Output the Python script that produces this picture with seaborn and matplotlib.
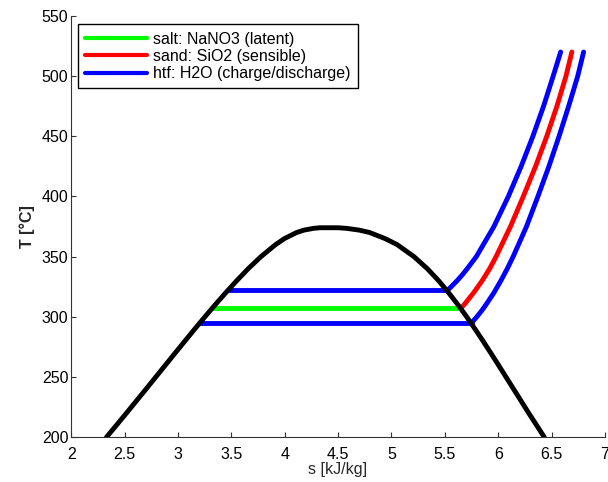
import matplotlib
matplotlib.use("Agg")
import matplotlib.pyplot as plt
import numpy as np
import pandas as pd
import seaborn as sns

# saturation dome of water
sat_T = [200, 210, 220, 230, 240, 250, 260, 270, 280, 290, 300, 310, 320, 330,
         340, 350, 360, 365, 370, 372, 373.5, 374]
sat_sf = [2.331, 2.425, 2.518, 2.610, 2.702, 2.793, 2.884, 2.975, 3.067, 3.159,
          3.253, 3.349, 3.448, 3.551, 3.659, 3.778, 3.915, 3.998, 4.111, 4.18,
          4.27, 4.33]
sat_sg = [6.432, 6.359, 6.286, 6.215, 6.144, 6.073, 6.002, 5.930, 5.857, 5.782,
          5.705, 5.623, 5.536, 5.442, 5.336, 5.211, 5.053, 4.94, 4.797, 4.70,
          4.58, 4.50]

# isothermal evaporation lines (T, s_start, s_end)
salt_T, salt_s = 307, [3.32, 5.65]
htf_lo_T, htf_lo_s = 295, [3.205, 5.75]
htf_hi_T, htf_hi_s = 322, [3.468, 5.525]

# superheated branches
sand_T = [307, 310, 315, 320, 330, 340, 350, 375, 400, 425, 450, 475, 500, 520]
sand_s = [5.65, 5.68, 5.725, 5.77, 5.85, 5.92, 5.98, 6.115, 6.235, 6.35, 6.455,
          6.55, 6.635, 6.69]
htf_lo_sup_T = [295, 300, 305, 310, 320, 330, 340, 350, 375, 400, 425, 450, 475,
                500, 520]
htf_lo_sup_s = [5.75, 5.80, 5.845, 5.885, 5.96, 6.025, 6.085, 6.14, 6.265, 6.372,
                6.475, 6.57, 6.66, 6.745, 6.80]
htf_hi_sup_T = [322, 325, 330, 335, 340, 350, 375, 400, 425, 450, 475, 500, 520]
htf_hi_sup_s = [5.525, 5.56, 5.615, 5.665, 5.71, 5.795, 5.96, 6.095, 6.215,
                6.325, 6.425, 6.515, 6.585]

GREEN, RED, BLUE = "#00ff00", "#ff0000", "#0000ff"

sns.set_style("ticks")
plt.rcParams["font.family"] = ["Liberation Sans", "DejaVu Sans"]
plt.rcParams["xtick.direction"] = "in"
plt.rcParams["ytick.direction"] = "in"
plt.rcParams["text.color"] = "black"

fig = plt.figure(figsize=(6.08, 4.82), dpi=100)
ax = fig.add_axes([0.117, 0.093, 0.878, 0.874])

lw = 3.5
FS = 11.5


def draw(s, T, color, label=None):
    df = pd.DataFrame({"s": s, "T": T})
    sns.lineplot(data=df, x="s", y="T", color=color, lw=lw, sort=False,
                 estimator=None, label=label, ax=ax, solid_capstyle="round",
                 solid_joinstyle="round")


draw(htf_hi_s, [htf_hi_T] * 2, BLUE)
draw(htf_lo_s, [htf_lo_T] * 2, BLUE)
draw(salt_s, [salt_T] * 2, GREEN, "salt: NaNO3 (latent)")
draw(sand_s, sand_T, RED, "sand: SiO2 (sensible)")
draw(htf_hi_sup_s, htf_hi_sup_T, BLUE, "htf: H2O (charge/discharge)")
draw(htf_lo_sup_s, htf_lo_sup_T, BLUE)
draw(sat_sf + sat_sg[::-1], sat_T + sat_T[::-1], "black")

ax.set_xlim(2, 7)
ax.set_ylim(200, 550)
ax.set_xticks(np.arange(2, 7.01, 0.5))
ax.set_xticklabels(["2", "2.5", "3", "3.5", "4", "4.5", "5", "5.5", "6", "6.5", "7"])
ax.set_yticks(np.arange(200, 551, 50))
ax.tick_params(labelsize=FS, length=3.5, width=0.8, color="#333333",
               labelcolor="black")
ax.tick_params(axis="x", pad=7)
ax.tick_params(axis="y", pad=2)
ax.set_xlabel("s [kJ/kg]", fontsize=FS, labelpad=0)
ax.set_ylabel("T [\u00b0C]", fontsize=FS, fontweight="bold", labelpad=5)
sns.despine(ax=ax)
for sp in ("left", "bottom"):
    ax.spines[sp].set_linewidth(0.8)
    ax.spines[sp].set_color("#333333")

leg = ax.legend(loc="upper left", bbox_to_anchor=(0.012, 0.98), fontsize=FS,
                fancybox=False, framealpha=1, edgecolor="black",
                handlelength=3.9, handletextpad=0.4, borderpad=0.45,
                labelspacing=0.15, borderaxespad=0)
leg.get_frame().set_linewidth(1.0)
for h in leg.get_lines():
    h.set_linewidth(3)

fig.savefig("out.png", dpi=100)
